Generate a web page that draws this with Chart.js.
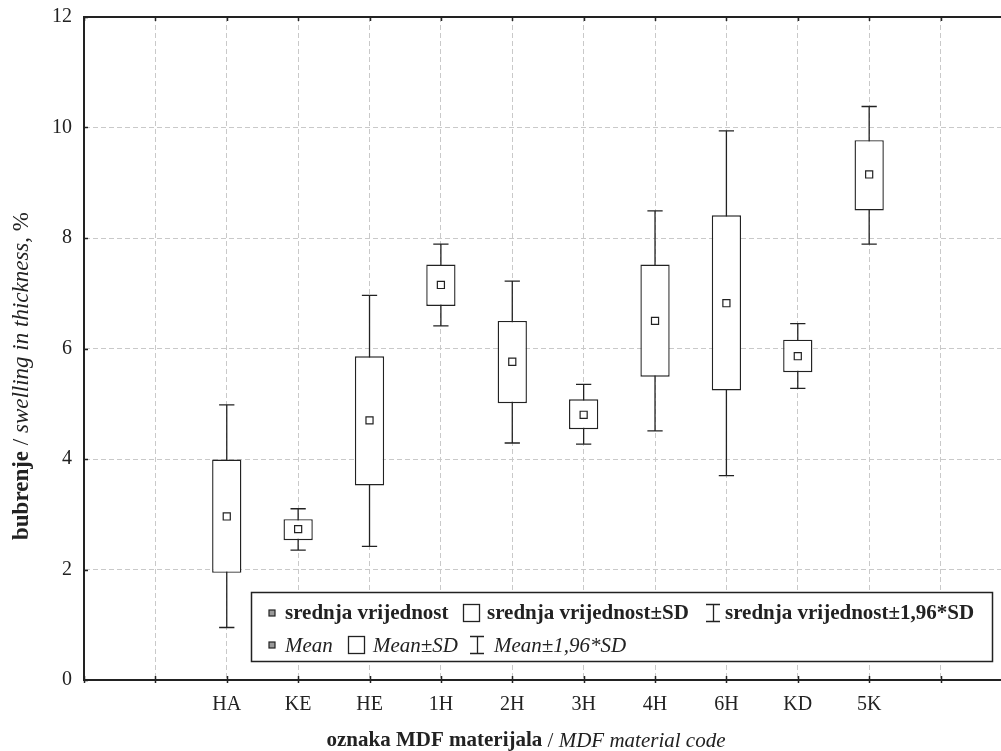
<!DOCTYPE html>
<html>
<head>
<meta charset="utf-8">
<script src="https://cdn.jsdelivr.net/npm/chart.js@4.4.1/dist/chart.umd.min.js"></script>
<style>
  html, body { margin: 0; padding: 0; background: #fff; overflow: hidden; }
  #wrap { width: 1001px; height: 751px; }
</style>
</head>
<body>
<div id="wrap"><canvas id="chart" width="1001" height="751"></canvas></div>
<script>
// material codes, in slot order (slots 0,1 and 12 are empty)
const categories = ['HA', 'KE', 'HE', '1H', '2H', '3H', '4H', '6H', 'KD', '5K'];
const means  = [2.96, 2.73, 4.70, 7.15, 5.76, 4.80, 6.50, 6.82, 5.86, 9.15];
const sdLow  = [1.94, 2.53, 3.52, 6.77, 5.01, 4.54, 5.49, 5.24, 5.57, 8.50];
const sdHigh = [3.99, 2.91, 5.86, 7.52, 6.50, 5.08, 7.52, 8.41, 6.16, 9.77];
const ciLow  = [0.95, 2.35, 2.42, 6.41, 4.29, 4.27, 4.51, 3.70, 5.28, 7.89];
const ciHigh = [4.98, 3.10, 6.96, 7.89, 7.22, 5.35, 8.49, 9.94, 6.45, 10.38];
const yTicks = [0, 2, 4, 6, 8, 10, 12];
const xSlots = [0, 1, 2, 3, 4, 5, 6, 7, 8, 9, 10, 11, 12];

const FIRST_SLOT = 2;
const CAP = 0.107;          // half width of whisker caps, in slots
const SERIF = '"Liberation Serif", "Times New Roman", serif';
const INK = '#222';
const GRID = '#c9c9c9';

const xPos = categories.map((c, i) => i + FIRST_SLOT);

const whiskers = [];
categories.forEach((c, i) => {
  const x = xPos[i];
  whiskers.push(
    {x: x, y: ciLow[i]}, {x: x, y: ciHigh[i]}, {x: x, y: null},
    {x: x - CAP, y: ciHigh[i]}, {x: x + CAP, y: ciHigh[i]}, {x: x, y: null},
    {x: x - CAP, y: ciLow[i]}, {x: x + CAP, y: ciLow[i]}, {x: x, y: null}
  );
});

// draws mixed bold / regular / italic pieces in one line, centred on (cx, cy)
function drawPieces(ctx, pieces, cx, cy, rotate) {
  ctx.save();
  ctx.translate(cx, cy);
  if (rotate) ctx.rotate(-Math.PI / 2);
  let total = 0;
  pieces.forEach(p => { ctx.font = p[1]; total += ctx.measureText(p[0]).width; });
  let x = -total / 2;
  ctx.fillStyle = INK;
  ctx.textBaseline = 'middle';
  ctx.textAlign = 'left';
  pieces.forEach(p => {
    ctx.font = p[1];
    ctx.fillText(p[0], x, 0);
    x += ctx.measureText(p[0]).width;
  });
  ctx.restore();
}

const decor = {
  id: 'decor',
  afterDraw(chart) {
    const ctx = chart.ctx;
    const a = chart.chartArea;
    const xs = chart.scales.x, ys = chart.scales.y;

    // top frame line
    ctx.save();
    ctx.strokeStyle = INK;
    ctx.lineWidth = 2;
    ctx.beginPath();
    ctx.moveTo(a.left - 1, a.top);
    ctx.lineTo(a.right, a.top);
    ctx.stroke();

    // small inward tick marks
    ctx.lineWidth = 1.5;
    ctx.beginPath();
    xSlots.forEach(v => {
      const px = Math.round(xs.getPixelForValue(v)) + 0.5;
      ctx.moveTo(px, a.top); ctx.lineTo(px, a.top + 4);
      ctx.moveTo(px, a.bottom - 4); ctx.lineTo(px, a.bottom + 3);
    });
    yTicks.forEach(v => {
      const py = Math.round(ys.getPixelForValue(v)) + 0.5;
      ctx.moveTo(a.left, py); ctx.lineTo(a.left + 4, py);
    });
    ctx.stroke();
    ctx.restore();

    // axis titles
    const xt = 21, yt = 23;
    drawPieces(ctx, [['oznaka MDF materijala', 'bold ' + xt + 'px ' + SERIF], [' / ', xt + 'px ' + SERIF],
      ['MDF material code', 'italic ' + xt + 'px ' + SERIF]], 526, 741, false);
    drawPieces(ctx, [['bubrenje', 'bold ' + yt + 'px ' + SERIF], [' / ', yt + 'px ' + SERIF],
      ['swelling in thickness', 'italic ' + yt + 'px ' + SERIF], [', %', yt + 'px ' + SERIF]], 22, 376, true);

    // legend
    const L = {x: 251, y: 592, w: 741, h: 69};
    ctx.save();
    ctx.fillStyle = '#fff';
    ctx.fillRect(L.x, L.y, L.w, L.h);
    ctx.strokeStyle = INK;
    ctx.lineWidth = 1.5;
    ctx.strokeRect(L.x + 0.5, L.y + 0.5, L.w, L.h);

    const rows = [
      {y: 613, font: 'bold 21px ' + SERIF,
       labels: ['srednja vrijednost', 'srednja vrijednost\u00b1SD', 'srednja vrijednost\u00b11,96*SD'],
       mark: 272, text1: 285, box: 463, text2: 487, whisk: 713, text3: 725},
      {y: 645, font: 'italic 21px ' + SERIF,
       labels: ['Mean', 'Mean\u00b1SD', 'Mean\u00b11,96*SD'],
       mark: 272, text1: 285, box: 348, text2: 373, whisk: 477, text3: 494}
    ];
    rows.forEach(r => {
      // mean marker
      ctx.fillStyle = '#999';
      ctx.fillRect(r.mark - 3, r.y - 3, 6, 6);
      ctx.lineWidth = 1.2;
      ctx.strokeStyle = INK;
      ctx.strokeRect(r.mark - 3, r.y - 3, 6, 6);
      // SD box
      ctx.lineWidth = 1.3;
      ctx.strokeRect(r.box + 0.5, r.y - 8.5, 16, 17);
      // whisker
      ctx.beginPath();
      ctx.moveTo(r.whisk - 7, r.y - 8.5); ctx.lineTo(r.whisk + 7, r.y - 8.5);
      ctx.moveTo(r.whisk + 0.5, r.y - 8.5); ctx.lineTo(r.whisk + 0.5, r.y + 8.5);
      ctx.moveTo(r.whisk - 7, r.y + 8.5); ctx.lineTo(r.whisk + 7, r.y + 8.5);
      ctx.stroke();
      // texts
      ctx.fillStyle = INK;
      ctx.font = r.font;
      ctx.textBaseline = 'middle';
      ctx.fillText(r.labels[0], r.text1, r.y + 1);
      ctx.fillText(r.labels[1], r.text2, r.y + 1);
      ctx.fillText(r.labels[2], r.text3, r.y + 1);
    });
    ctx.restore();
  }
};

new Chart(document.getElementById('chart'), {
  type: 'bar',
  data: {
    datasets: [
      {
        type: 'line',
        data: whiskers,
        borderColor: INK,
        borderWidth: 1.3,
        pointRadius: 0,
        spanGaps: false,
        order: 3
      },
      {
        type: 'bar',
        data: categories.map((c, i) => ({x: xPos[i], y: [sdLow[i], sdHigh[i]]})),
        backgroundColor: '#fff',
        borderColor: INK,
        borderWidth: 1.4,
        borderSkipped: false,
        barPercentage: 0.41,
        categoryPercentage: 1,
        order: 2
      },
      {
        type: 'line',
        data: categories.map((c, i) => ({x: xPos[i], y: means[i]})),
        showLine: false,
        pointStyle: 'rect',
        pointRadius: 5,
        pointBackgroundColor: '#fff',
        pointBorderColor: INK,
        pointBorderWidth: 1.2,
        order: 1
      }
    ]
  },
  options: {
    responsive: false,
    animation: false,
    layout: {autoPadding: false, padding: {top: 17, right: 0, left: 0, bottom: 0}},
    plugins: {legend: {display: false}, tooltip: {enabled: false}},
    scales: {
      x: {
        type: 'linear',
        offset: false,
        min: 0,
        max: 12.847,
        afterBuildTicks: s => { s.ticks = xSlots.map(v => ({value: v})); },
        afterFit: s => { s.height = 71; s.paddingLeft = 0; s.paddingRight = 0; },
        grid: {
          offset: false,
          color: ctx => ctx.tick && ctx.tick.value === 0 ? 'transparent' : GRID,
          lineWidth: 1,
          drawTicks: false
        },
        border: {display: true, color: INK, width: 2, dash: [5, 3]},
        ticks: {
          autoSkip: false,
          maxRotation: 0,
          padding: 13,
          color: INK,
          font: {family: SERIF, size: 20},
          callback: v => categories[v - FIRST_SLOT] || ''
        }
      },
      y: {
        min: 0,
        max: 12,
        afterBuildTicks: s => { s.ticks = yTicks.map(v => ({value: v})); },
        afterFit: s => { s.width = 84; s.paddingTop = 0; s.paddingBottom = 0; },
        grid: {
          color: ctx => ctx.tick && (ctx.tick.value === 0 || ctx.tick.value === 12) ? 'transparent' : GRID,
          lineWidth: 1,
          drawTicks: false
        },
        border: {display: true, color: INK, width: 2, dash: [5, 3]},
        ticks: {
          padding: 12,
          color: INK,
          font: {family: SERIF, size: 20}
        }
      }
    }
  },
  plugins: [decor]
});
</script>
</body>
</html>
